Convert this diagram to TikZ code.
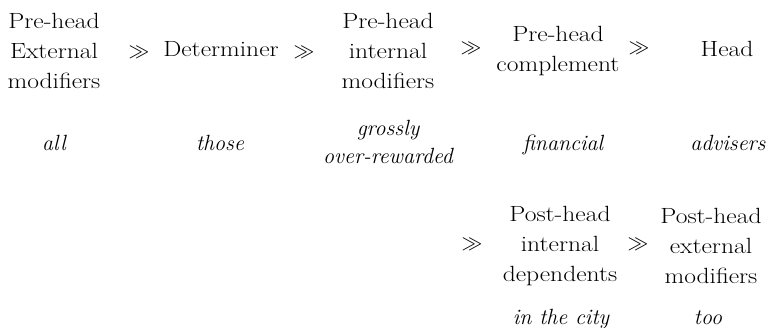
\documentclass[tikz,border=0pt]{standalone}
\usepackage{amssymb}
\usepackage{fontspec}
\newfontfamily\catfont{Latin Modern Roman}[FakeStretch=1.16]
\begin{document}
\begin{tikzpicture}[x=1pt,y=-1pt,
  cat/.style={align=center,inner sep=0pt,font=\catfont\fontsize{22}{30}\selectfont},
  ex/.style={align=center,inner sep=0pt,anchor=base,font=\fontsize{22}{28}\selectfont\itshape},
  gt/.style={inner sep=0pt,font=\fontsize{20}{20}\selectfont}]
\useasboundingbox (0,0) rectangle (772,328);
% top row
\node[cat] (c1) at (54,51) {Pre-head\\External\\modifiers};
\node[gt] (g1) at (139,52) {$\gg$};
\node[cat] (c2) at (221,49) {Determiner};
\node[gt] (g2) at (304,52) {$\gg$};
\node[cat] (c3) at (388,51) {Pre-head\\internal\\modifiers};
\node[gt] (g3) at (471,48) {$\gg$};
\node[cat] (c4) at (558,51) {Pre-head\\complement};
\node[gt] (g4) at (639,48) {$\gg$};
\node[cat] (c5) at (727,49) {Head};
% examples
\node[ex] (e1) at (54,151) {all};
\node[ex] (e2) at (220,151) {those};
\node[ex] (e3) at (388,164) {grossly\\over-rewarded};
\node[ex] (e4) at (563,151) {financial};
\node[ex] (e5) at (728,151) {advisers};
% bottom row
\node[gt] (g5) at (472,244) {$\gg$};
\node[cat] (c6) at (560,246) {Post-head\\internal\\dependents};
\node[gt] (g6) at (638,244) {$\gg$};
\node[cat] (c7) at (711,246) {Post-head\\external\\modifiers};
\node[ex] (e6) at (561,325) {in the city};
\node[ex] (e7) at (708,325) {too};
\end{tikzpicture}
\end{document}
